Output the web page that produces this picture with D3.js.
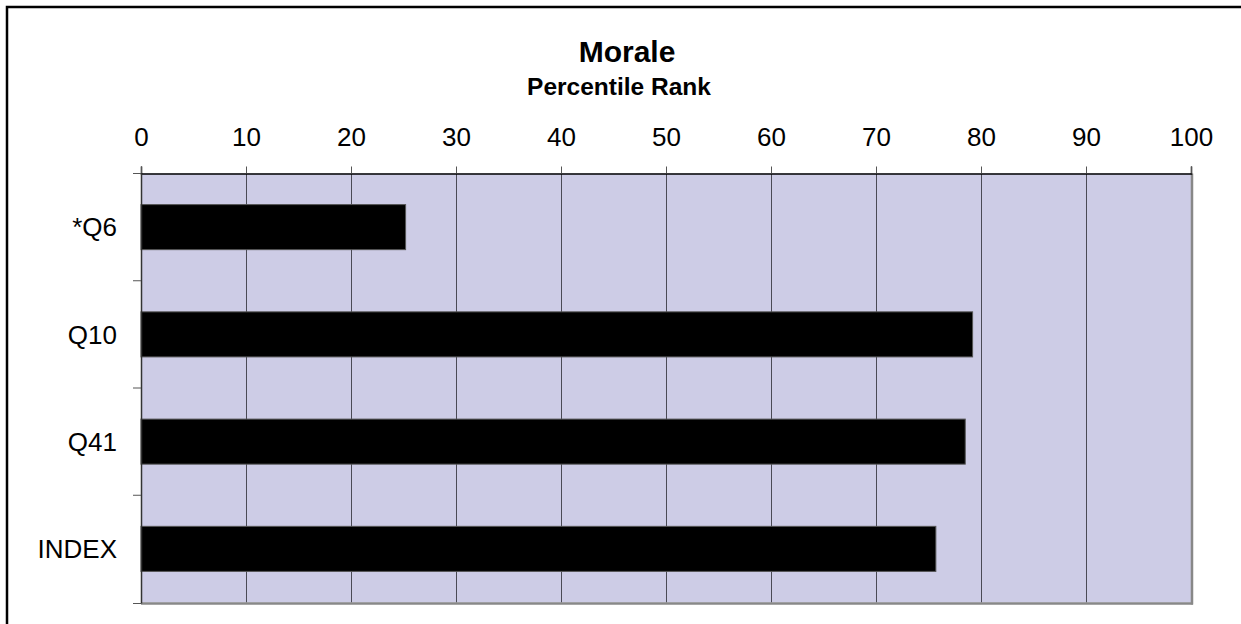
<!DOCTYPE html>
<html>
<head>
<meta charset="utf-8">
<script src="https://cdn.jsdelivr.net/npm/d3@7"></script>
<style>
  html, body { margin: 0; padding: 0; background: #fff; }
  svg { display: block; font-family: "Liberation Sans", Arial, sans-serif; }
</style>
</head>
<body>
<svg id="chart" width="1241" height="624"></svg>
<script>
const categories = ["*Q6", "Q10", "Q41", "INDEX"];
const values = [25.2, 79.2, 78.5, 75.7];
const xTicks = [0, 10, 20, 30, 40, 50, 60, 70, 80, 90, 100];
const titleText = "Morale";
const subtitleText = "Percentile Rank";

const svg = d3.select("#chart");
const W = 1241, H = 624;
const m = { left: 141, right: 1191, top: 173.5, bottom: 602.5 };

// outer frame (extends beyond visible area on right/bottom)
svg.append("rect")
  .attr("x", 7).attr("y", 7)
  .attr("width", W + 20).attr("height", H + 20)
  .attr("fill", "#fff")
  .attr("stroke", "#000").attr("stroke-width", 2.5);

const x = d3.scaleLinear().domain([0, 100]).range([m.left, m.right]);
const y = d3.scaleBand().domain(categories).range([m.top, m.bottom])
  .paddingInner(0.58).paddingOuter(0.29);
const yBand = d3.scaleBand().domain(categories).range([m.top, m.bottom]).padding(0);

// plot area
svg.append("rect")
  .attr("x", m.left).attr("y", m.top)
  .attr("width", m.right - m.left).attr("height", m.bottom - m.top)
  .attr("fill", "#CDCCE6");

// vertical gridlines
svg.append("g").selectAll("line")
  .data(xTicks.filter(d => d > 0 && d < 100))
  .join("line")
  .attr("x1", d => Math.round(x(d)) + 0.5).attr("x2", d => Math.round(x(d)) + 0.5)
  .attr("y1", m.top).attr("y2", m.bottom)
  .attr("stroke", "#4a4a55").attr("stroke-width", 1);

// plot border gray (right & bottom)
svg.append("line")
  .attr("x1", m.right + 1).attr("x2", m.right + 1)
  .attr("y1", m.top).attr("y2", m.bottom + 2)
  .attr("stroke", "#888").attr("stroke-width", 2.5);
svg.append("line")
  .attr("x1", m.left).attr("x2", m.right + 2)
  .attr("y1", m.bottom + 1).attr("y2", m.bottom + 1)
  .attr("stroke", "#888").attr("stroke-width", 2.5);

// bars
svg.append("g").selectAll("rect")
  .data(categories.map((c, i) => ({ c, v: values[i] })))
  .join("rect")
  .attr("x", x(0))
  .attr("y", d => y(d.c))
  .attr("width", d => x(d.v) - x(0))
  .attr("height", y.bandwidth())
  .attr("fill", "#000")
  .attr("stroke", "#555").attr("stroke-width", 1);

// top x axis
const xAxis = d3.axisTop(x).tickValues(xTicks).tickSize(7).tickPadding(21).tickFormat(d3.format("d"));
const gx = svg.append("g").attr("transform", `translate(0,${m.top})`).call(xAxis);
gx.select(".domain").attr("stroke", "#000").attr("stroke-width", 1.5);
gx.selectAll(".tick line").attr("stroke", "#555");
gx.selectAll(".tick text").attr("font-size", 26).attr("fill", "#000")
  .attr("font-family", "Liberation Sans, Arial, sans-serif");

// left y axis: ticks at category boundaries, labels at centers
const gy = svg.append("g");
gy.append("line")
  .attr("x1", m.left + 0.5).attr("x2", m.left + 0.5)
  .attr("y1", m.top).attr("y2", m.bottom + 1)
  .attr("stroke", "#333").attr("stroke-width", 1.5);
const bounds = categories.map(c => yBand(c)).concat([m.bottom + 1]);
gy.selectAll("line.tk").data(bounds).join("line").attr("class", "tk")
  .attr("x1", m.left - 8).attr("x2", m.left)
  .attr("y1", d => d).attr("y2", d => d)
  .attr("stroke", "#555").attr("stroke-width", 1);
gy.selectAll("text").data(categories).join("text")
  .attr("x", m.left - 24)
  .attr("y", d => yBand(d) + yBand.bandwidth() / 2)
  .attr("dy", "0.36em")
  .attr("text-anchor", "end")
  .attr("font-size", 26)
  .attr("fill", "#000")
  .text(d => d);

// titles
svg.append("text")
  .attr("x", 627).attr("y", 62)
  .attr("text-anchor", "middle")
  .attr("font-size", 30).attr("font-weight", "bold")
  .text(titleText);
svg.append("text")
  .attr("x", 619).attr("y", 95)
  .attr("text-anchor", "middle")
  .attr("font-size", 24.5).attr("font-weight", "bold")
  .text(subtitleText);
</script>
</body>
</html>
